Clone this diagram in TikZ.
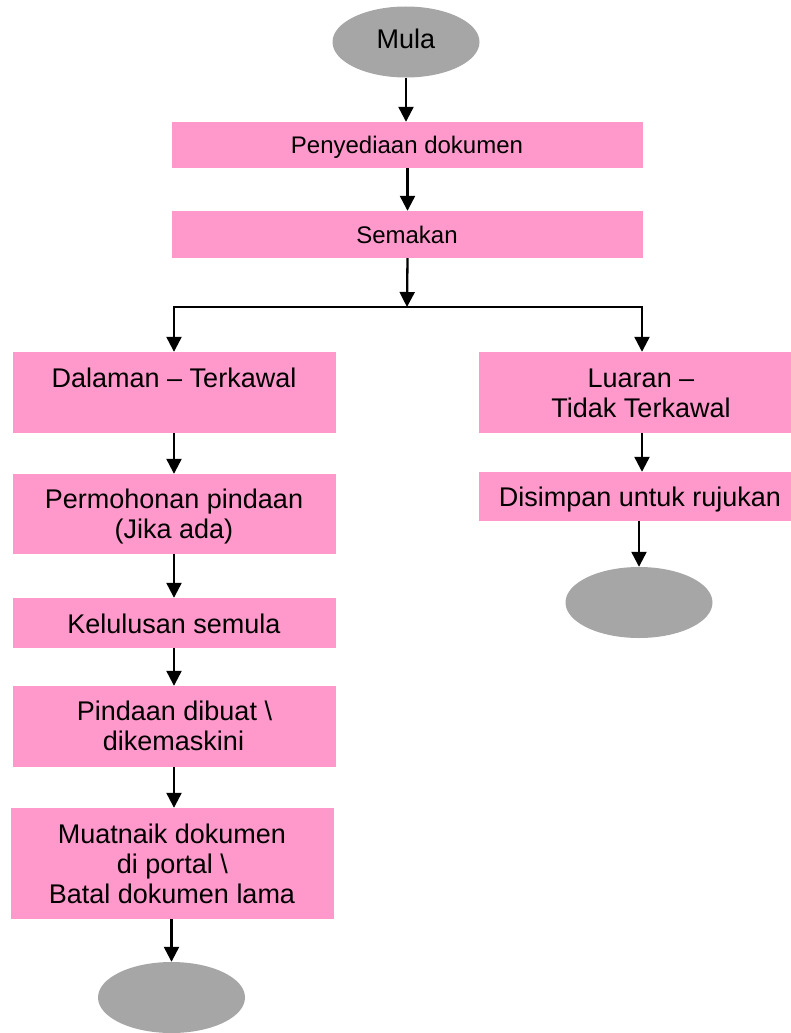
\documentclass[tikz,border=0pt]{standalone}
\usepackage{fontspec}
\setmainfont{Liberation Sans}
\usetikzlibrary{shapes.geometric,arrows.meta}
\definecolor{boxpink}{HTML}{FF99CC}
\definecolor{endgray}{HTML}{A6A6A6}
\begin{document}
\begin{tikzpicture}[x=1pt,y=-1pt,
  pinkbox/.style={rectangle,fill=boxpink,draw=none,inner sep=0pt},
  term/.style={ellipse,fill=endgray,draw=none,inner sep=0pt,minimum width=147pt,minimum height=71pt},
  big/.style={font=\fontsize{27}{30}\selectfont,inner sep=0pt,anchor=base},
  small/.style={font=\fontsize{24}{28}\selectfont,inner sep=0pt,anchor=base},
  arr/.style={line width=2.3pt,-{Triangle[width=15pt,length=15pt]}},
  ln/.style={line width=2.3pt,line cap=rect}]
\useasboundingbox (0,0) rectangle (791,1033);

% terminals
\node[term,font=\fontsize{27}{30}\selectfont,text depth=7pt] (mula) at (406,42) {Mula};
\node[term] (end1) at (171.5,997.5) {};
\node[term] (end2) at (639,602.5) {};

% boxes
\node[pinkbox,minimum width=471pt,minimum height=46pt] (pen) at (407.5,145) {};
\node[pinkbox,minimum width=471pt,minimum height=47pt] (sem) at (407.5,234.5) {};
\node[pinkbox,minimum width=323pt,minimum height=81pt] (dal) at (174.5,392.5) {};
\node[pinkbox,minimum width=312pt,minimum height=81pt] (lua) at (635,392.5) {};
\node[pinkbox,minimum width=323pt,minimum height=80pt] (per) at (174.5,514) {};
\node[pinkbox,minimum width=323pt,minimum height=50pt] (kel) at (174.5,623) {};
\node[pinkbox,minimum width=323pt,minimum height=81pt] (pin) at (174.5,726.5) {};
\node[pinkbox,minimum width=323pt,minimum height=111pt] (mua) at (172.5,863.5) {};
\node[pinkbox,minimum width=312pt,minimum height=49pt] (dis) at (635,496.5) {};

% texts
\node[small] (tpen) at (407,153) {Penyediaan dokumen};
\node[small] (tsem) at (407,243) {Semakan};
\node[big] (tdal) at (174,387) {Dalaman – Terkawal};
\node[big] (tlua1) at (641,387) {Luaran –};
\node[big] (tlua2) at (641,417) {Tidak Terkawal};
\node[big] (tper1) at (174,508) {Permohonan pindaan};
\node[big] (tper2) at (174,538) {(Jika ada)};
\node[big] (tkel) at (174,633) {Kelulusan semula};
\node[big] (tpin1) at (174.5,720) {Pindaan dibuat \textbackslash};
\node[big] (tpin2) at (173.5,750) {dikemaskini};
\node[big] (tmua1) at (172,843) {Muatnaik dokumen};
\node[big] (tmua2) at (172.5,873) {di portal \textbackslash};
\node[big] (tmua3) at (172,903) {Batal dokumen lama};
\node[big] (tdis) at (640,506) {Disimpan untuk rujukan};

% connectors
\coordinate (split) at (407,307);
\coordinate (sl) at (174,307);
\coordinate (sr) at (642,307);
\draw[arr] (mula.south) -- (mula.south |- pen.north);
\draw[arr] (pen.south) -- (sem.north);
\draw[arr] (sem.south) -- (split);
\draw[ln] (sl) -- (sr);
\draw[arr] (sl) -- (sl |- dal.north);
\draw[arr] (sr) -- (sr |- lua.north);
\draw[arr] (dal.south -| sl) -- (per.north -| sl);
\draw[arr] (per.south -| sl) -- (kel.north -| sl);
\draw[arr] (kel.south -| sl) -- (pin.north -| sl);
\draw[arr] (pin.south -| sl) -- (mua.north -| sl);
\draw[arr] (mua.south -| end1) -- (end1.north);
\draw[arr] (lua.south -| sr) -- (dis.north -| sr);
\draw[arr] (dis.south -| end2) -- (end2.north);
\end{tikzpicture}
\end{document}
